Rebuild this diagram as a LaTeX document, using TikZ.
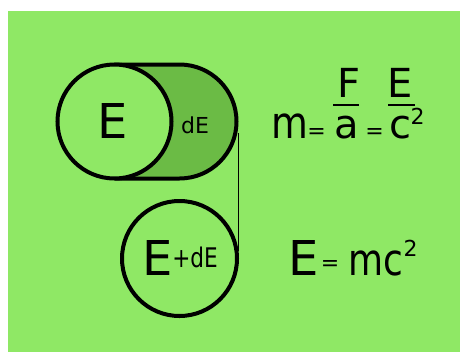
\documentclass[tikz,border=0pt]{standalone}
\usepackage{fontspec}
\setmainfont{DejaVu Sans}
\definecolor{bg}{HTML}{8FE865}
\definecolor{dark}{HTML}{6BBB45}
\tikzset{
  txt/.style={inner sep=0pt, outer sep=0pt, anchor=base, text=black},
  bigE/.style={txt, font=\fontsize{48bp}{48bp}\selectfont},
  small/.style={txt, font=\fontsize{22bp}{22bp}\selectfont},
  mid/.style={txt, font=\fontsize{27bp}{27bp}\selectfont, xscale=0.8},
  lower/.style={txt, font=\fontsize{44bp}{44bp}\selectfont, xscale=0.86},
  frac/.style={txt, font=\fontsize{40bp}{40bp}\selectfont},
  ring/.style={line width=4bp, draw=black},
  bar/.style={line width=1.6bp, draw=black}
}
\begin{document}
\begin{tikzpicture}[x=1bp,y=1bp]
\useasboundingbox (0,0) rectangle (460,352);
\fill[white] (0,0) rectangle (460,352);
\fill[bg] (8,0) rectangle (460,341);
% capsule
\coordinate (capc) at (179.5,230.5);
\coordinate (leftc) at (114.5,230.5);
\fill[dark] (114.5,287.5) -- (179.5,287.5) arc[start angle=90,end angle=-90,radius=57]
  -- (114.5,173.5) arc[start angle=270,end angle=90,radius=57] -- cycle;
\draw[ring] (114.5,287.5) -- (179.5,287.5) arc[start angle=90,end angle=-90,radius=57]
  -- (114.5,173.5);
\fill[bg] (leftc) circle[radius=57];
\draw[ring] (leftc) circle[radius=57];
% bottom circle
\coordinate (botc) at (179.5,93.5);
\fill[bg] (botc) circle[radius=57.5];
\draw[ring] (botc) circle[radius=57.5];
% connector
\coordinate (lt) at (238.3,219);
\coordinate (lb) at (238.3,101);
\draw[line width=1.5bp] (lt) -- (lb);
% texts in circles
\node[bigE] (e1) at (112.5,214) {E};
\node[small] (de1) at (195,219) {dE};
\node[bigE] (e2) at (158,77) {E};
\node[mid] (de2) at (195,85) {+dE};
% m = F/a = E/c^2
\node[lower] (m1) at (290,214) {m};
\node[small] (eq1) at (316.5,214) {=};
\node[frac] (f1) at (349,255) {F};
\draw[bar] (333,247) -- (359,247);
\node[frac] (a1) at (347,214) {a};
\node[small] (eq2) at (374.5,214) {=};
\node[frac] (e3) at (400.5,255) {E};
\draw[bar] (388,247) -- (415,247);
\node[frac] (c1) at (400,214) {c};
\node[small] (s1) at (417.5,228) {2};
% E = mc^2
\node[bigE] (e4) at (303.5,77) {E};
\node[small] (eq3) at (330,82) {=};
\node[lower, xscale=0.95] (mc) at (376,77) {mc};
\node[small] (s2) at (410.5,96) {2};
\end{tikzpicture}
\end{document}
